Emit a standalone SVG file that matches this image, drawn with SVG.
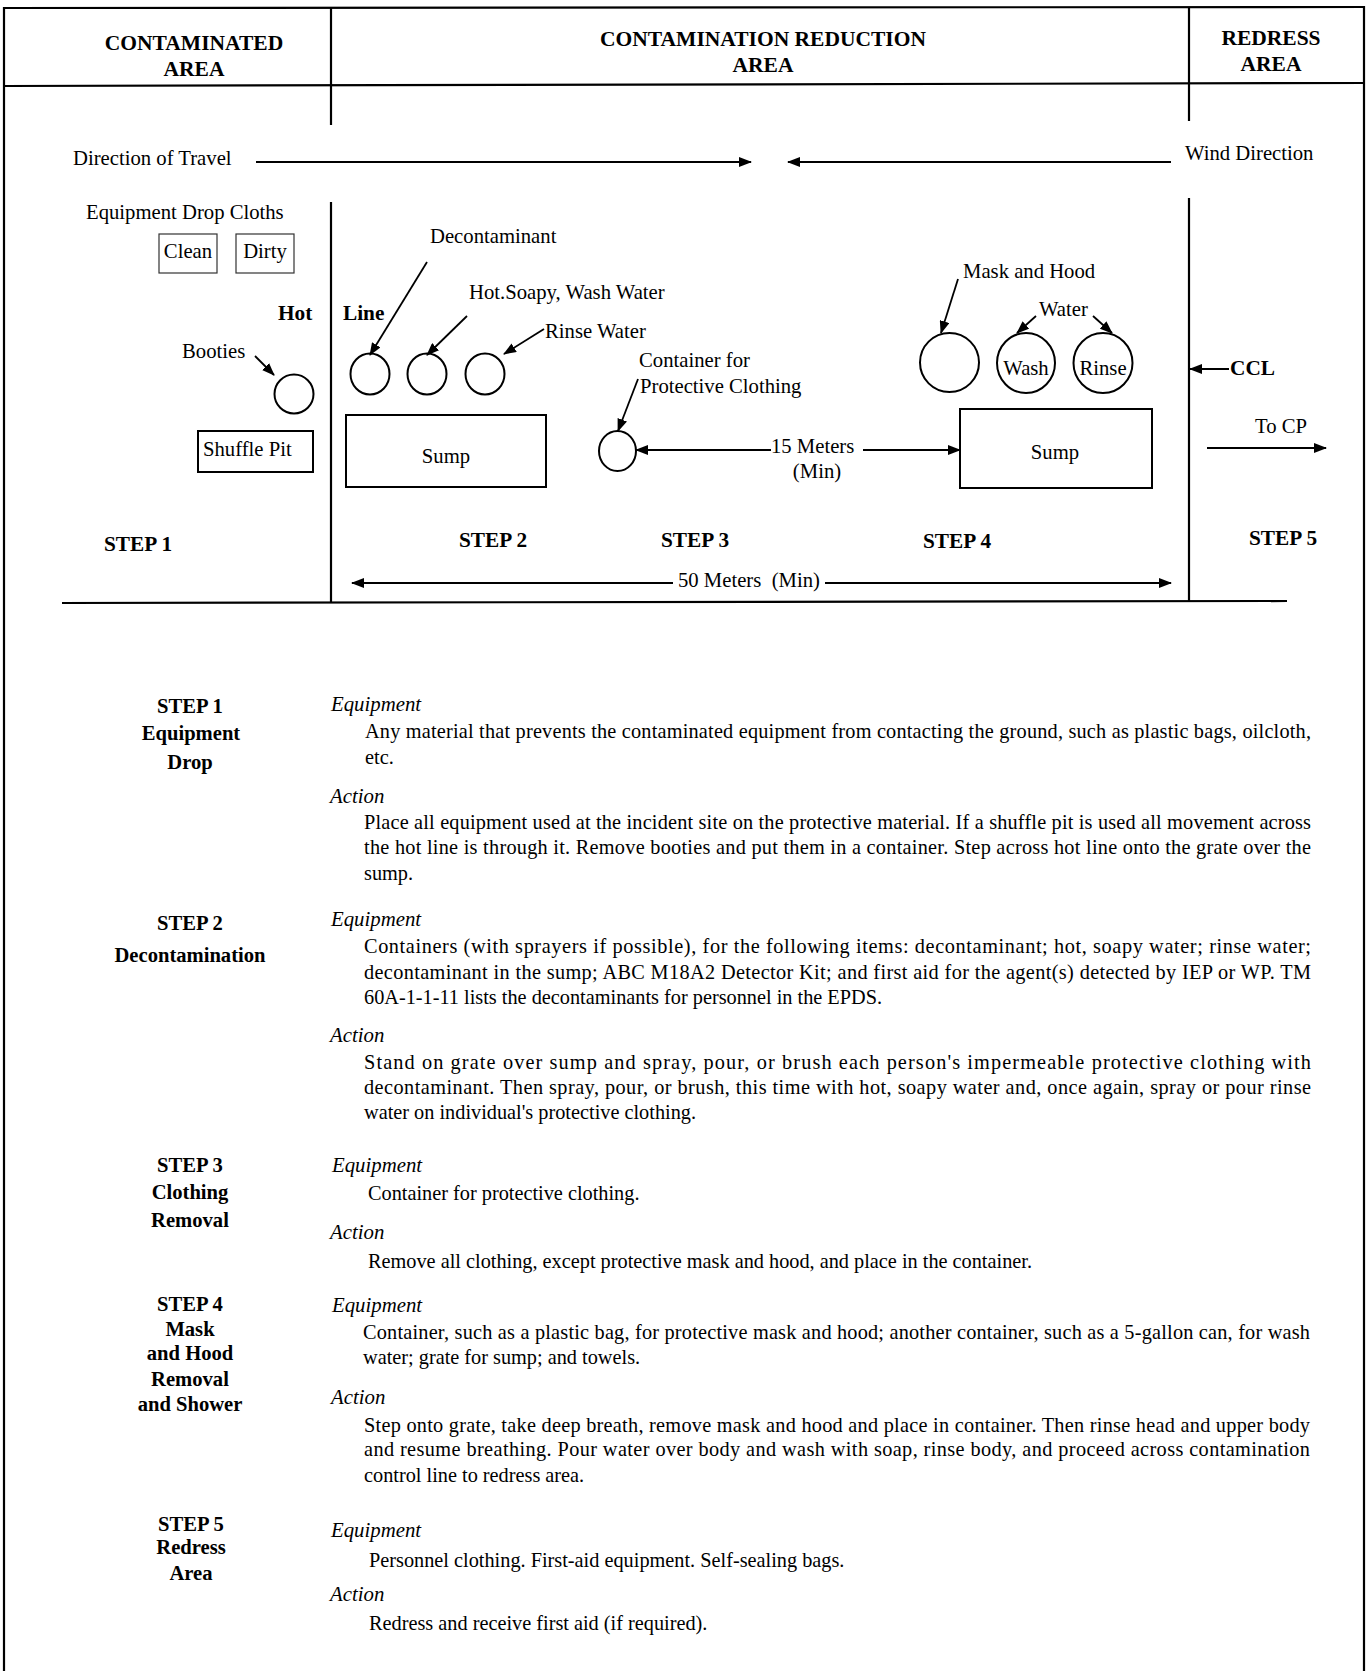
<svg xmlns="http://www.w3.org/2000/svg" width="1367" height="1671" viewBox="0 0 1367 1671">
<style>
text{font-family:"Liberation Serif","Times New Roman",serif;fill:#000}
.t{font-size:20.3px}
.d{font-size:20.7px}
.b{font-size:21.3px;font-weight:bold}
.h{font-size:21.5px;font-weight:bold;text-anchor:middle}
.sl{font-size:20.6px;font-weight:bold;text-anchor:middle}
.i{font-size:20.8px;font-style:italic}
.c{text-anchor:middle}
.frame{stroke:#000;stroke-width:2.2;fill:none}
.shape{stroke:#000;stroke-width:2;fill:none}
.thin{stroke:#333;stroke-width:1.2;fill:none}
.arr{stroke:#000;stroke-width:1.8;fill:none;marker-end:url(#ah)}
</style>
<defs>
<marker id="ah" markerWidth="13" markerHeight="10" refX="12" refY="5" orient="auto" markerUnits="userSpaceOnUse">
<path d="M0,0 L13,5 L0,10 z" fill="#000"/>
</marker>
</defs>
<rect width="1367" height="1671" fill="#fff"/>

<g id="frame">
<line class="frame" x1="4" y1="8" x2="1364" y2="7"/>
<line class="frame" x1="4" y1="7" x2="4" y2="1671"/>
<line class="frame" x1="1364" y1="6" x2="1364" y2="1671"/>
<line class="frame" x1="4" y1="86" x2="1364" y2="83"/>
<line class="frame" x1="331" y1="7" x2="331" y2="125"/>
<line class="frame" x1="331" y1="202" x2="331" y2="603"/>
<line class="frame" x1="1189" y1="7" x2="1189" y2="121"/>
<line class="frame" x1="1189" y1="198" x2="1189" y2="601"/>
<line class="frame" x1="62" y1="603" x2="1287" y2="601"/>
</g>

<g id="headers">
<text class="h" x="194" y="50">CONTAMINATED</text>
<text class="h" x="194" y="76">AREA</text>
<text class="h" x="763" y="46">CONTAMINATION REDUCTION</text>
<text class="h" x="763" y="72">AREA</text>
<text class="h" x="1271" y="45">REDRESS</text>
<text class="h" x="1271" y="71">AREA</text>
</g>

<g id="labels">
<text class="d" x="73" y="165">Direction of Travel</text>
<text class="d" x="1185" y="160">Wind Direction</text>
<text class="d" x="86" y="219">Equipment Drop Cloths</text>
<text class="d" x="430" y="243">Decontaminant</text>
<text class="d" x="469" y="299">Hot.Soapy, Wash Water</text>
<text class="b" x="278" y="320">Hot</text>
<text class="b" x="343" y="320">Line</text>
<text class="d" x="545" y="338">Rinse Water</text>
<text class="d" x="182" y="358">Booties</text>
<text class="d" x="639" y="367">Container for</text>
<text class="d" x="640" y="393">Protective Clothing</text>
<text class="d" x="963" y="278">Mask and Hood</text>
<text class="d" x="1039" y="316">Water</text>
<text class="b" x="1230" y="375">CCL</text>
<text class="d" x="1255" y="433">To CP</text>
<text class="d" x="771" y="453">15 Meters</text>
<text class="d c" x="817" y="478">(Min)</text>
<text class="d" x="678" y="587" xml:space="preserve">50 Meters  (Min)</text>
<text class="b" x="104" y="551">STEP 1</text>
<text class="b" x="459" y="547">STEP 2</text>
<text class="b" x="661" y="547">STEP 3</text>
<text class="b" x="923" y="548">STEP 4</text>
<text class="b" x="1249" y="545">STEP 5</text>
</g>

<g id="clean-cloth">
<rect class="thin" x="159" y="234" width="58" height="39"/>
<text class="d c" x="188" y="258">Clean</text>
</g>
<g id="dirty-cloth">
<rect class="thin" x="236" y="234" width="58" height="39"/>
<text class="d c" x="265" y="258">Dirty</text>
</g>
<g id="booties-container">
<ellipse class="shape" cx="294" cy="394" rx="19.5" ry="19.5"/>
</g>
<g id="shuffle-pit">
<rect class="shape" x="198" y="431" width="115" height="41"/>
<text class="d" x="203" y="456">Shuffle Pit</text>
</g>
<g id="decon-container">
<ellipse class="shape" cx="370" cy="374" rx="19.5" ry="20.5"/>
</g>
<g id="wash-water-container">
<ellipse class="shape" cx="427" cy="374" rx="19.5" ry="20.5"/>
</g>
<g id="rinse-water-container">
<ellipse class="shape" cx="485" cy="374" rx="19.5" ry="20.5"/>
</g>
<g id="sump-1">
<rect class="shape" x="346" y="415" width="200" height="72"/>
<text class="d c" x="446" y="463">Sump</text>
</g>
<g id="clothing-container">
<ellipse class="shape" cx="617.5" cy="451" rx="18.5" ry="20"/>
</g>
<g id="mask-container">
<ellipse class="shape" cx="949.5" cy="362.5" rx="29.5" ry="29.5"/>
</g>
<g id="wash-container">
<ellipse class="shape" cx="1026" cy="363" rx="29" ry="30"/>
<text class="d c" x="1026" y="375">Wash</text>
</g>
<g id="rinse-container">
<ellipse class="shape" cx="1103" cy="363" rx="29.5" ry="30"/>
<text class="d c" x="1103" y="375">Rinse</text>
</g>
<g id="sump-2">
<rect class="shape" x="960" y="409" width="192" height="79"/>
<text class="d c" x="1055" y="459">Sump</text>
</g>

<g id="connectors">
<line class="arr" x1="256" y1="162" x2="751" y2="162"/>
<line class="arr" x1="1171" y1="162" x2="788" y2="162"/>
<line class="arr" x1="427" y1="262" x2="370" y2="355"/>
<line class="arr" x1="467" y1="316" x2="427" y2="355"/>
<line class="arr" x1="544" y1="329" x2="504" y2="354"/>
<line class="arr" x1="255" y1="356" x2="274" y2="375"/>
<line class="arr" x1="638" y1="379" x2="618" y2="431"/>
<line class="arr" x1="771" y1="450" x2="636" y2="450"/>
<line class="arr" x1="863" y1="450" x2="960" y2="450"/>
<line class="arr" x1="958" y1="279" x2="941" y2="333"/>
<line class="arr" x1="1036" y1="316" x2="1017" y2="333"/>
<line class="arr" x1="1093" y1="316" x2="1112" y2="333"/>
<line class="arr" x1="1229" y1="369" x2="1190" y2="369"/>
<line class="arr" x1="1207" y1="448" x2="1326" y2="448"/>
<line class="arr" x1="673" y1="583" x2="352" y2="583"/>
<line class="arr" x1="825" y1="583" x2="1171" y2="583"/>
</g>

<g id="step1-text">
<text class="sl" x="190" y="713">STEP 1</text>
<text class="sl" x="191" y="740">Equipment</text>
<text class="sl" x="190" y="769">Drop</text>
<text class="i" x="331" y="711">Equipment</text>
<text class="t" x="365" y="738" textLength="946" lengthAdjust="spacing">Any material that prevents the contaminated equipment from contacting the ground, such as plastic bags, oilcloth,</text>
<text class="t" x="365" y="764">etc.</text>
<text class="i" x="330" y="803">Action</text>
<text class="t" x="364" y="829" textLength="947" lengthAdjust="spacing">Place all equipment used at the incident site on the protective material. If a shuffle pit is used all movement across</text>
<text class="t" x="364" y="854" textLength="947" lengthAdjust="spacing">the hot line is through it. Remove booties and put them in a container. Step across hot line onto the grate over the</text>
<text class="t" x="364" y="880">sump.</text>
</g>

<g id="step2-text">
<text class="sl" x="190" y="930">STEP 2</text>
<text class="sl" x="190" y="962">Decontamination</text>
<text class="i" x="331" y="926">Equipment</text>
<text class="t" x="364" y="953" textLength="947" lengthAdjust="spacing">Containers (with sprayers if possible), for the following items: decontaminant; hot, soapy water; rinse water;</text>
<text class="t" x="364" y="979" textLength="947" lengthAdjust="spacing">decontaminant in the sump; ABC M18A2 Detector Kit; and first aid for the agent(s) detected by IEP or WP. TM</text>
<text class="t" x="364" y="1004">60A-1-1-11 lists the decontaminants for personnel in the EPDS.</text>
<text class="i" x="330" y="1042">Action</text>
<text class="t" x="364" y="1069" textLength="947" lengthAdjust="spacing">Stand on grate over sump and spray, pour, or brush each person's impermeable protective clothing with</text>
<text class="t" x="364" y="1094" textLength="947" lengthAdjust="spacing">decontaminant. Then spray, pour, or brush, this time with hot, soapy water and, once again, spray or pour rinse</text>
<text class="t" x="364" y="1119">water on individual's protective clothing.</text>
</g>

<g id="step3-text">
<text class="sl" x="190" y="1172">STEP 3</text>
<text class="sl" x="190" y="1199">Clothing</text>
<text class="sl" x="190" y="1227">Removal</text>
<text class="i" x="332" y="1172">Equipment</text>
<text class="t" x="368" y="1200">Container for protective clothing.</text>
<text class="i" x="330" y="1239">Action</text>
<text class="t" x="368" y="1268">Remove all clothing, except protective mask and hood, and place in the container.</text>
</g>

<g id="step4-text">
<text class="sl" x="190" y="1311">STEP 4</text>
<text class="sl" x="190" y="1336">Mask</text>
<text class="sl" x="190" y="1360">and Hood</text>
<text class="sl" x="190" y="1386">Removal</text>
<text class="sl" x="190" y="1411">and Shower</text>
<text class="i" x="332" y="1312">Equipment</text>
<text class="t" x="363" y="1339" textLength="947" lengthAdjust="spacing">Container, such as a plastic bag, for protective mask and hood; another container, such as a 5-gallon can, for wash</text>
<text class="t" x="363" y="1364">water; grate for sump; and towels.</text>
<text class="i" x="331" y="1404">Action</text>
<text class="t" x="364" y="1432" textLength="946" lengthAdjust="spacing">Step onto grate, take deep breath, remove mask and hood and place in container. Then rinse head and upper body</text>
<text class="t" x="364" y="1456" textLength="946" lengthAdjust="spacing">and resume breathing. Pour water over body and wash with soap, rinse body, and proceed across contamination</text>
<text class="t" x="364" y="1482">control line to redress area.</text>
</g>

<g id="step5-text">
<text class="sl" x="191" y="1531">STEP 5</text>
<text class="sl" x="191" y="1554">Redress</text>
<text class="sl" x="191" y="1580">Area</text>
<text class="i" x="331" y="1537">Equipment</text>
<text class="t" x="369" y="1567">Personnel clothing. First-aid equipment. Self-sealing bags.</text>
<text class="i" x="330" y="1601">Action</text>
<text class="t" x="369" y="1630">Redress and receive first aid (if required).</text>
</g>
</svg>
